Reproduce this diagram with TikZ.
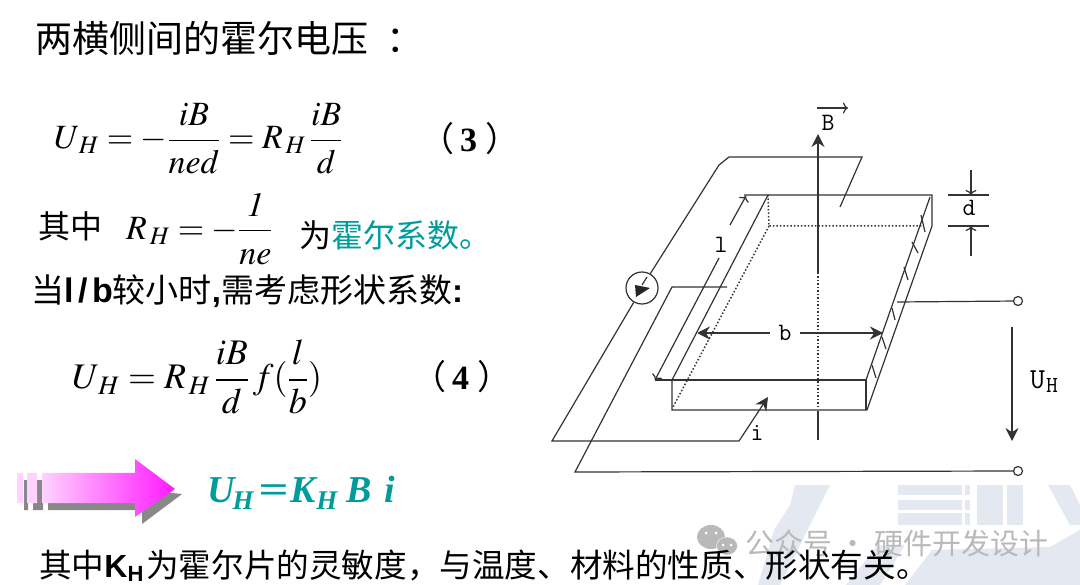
\documentclass[tikz,border=0pt]{standalone}
\usepackage{amsmath}
\usepackage{mathptmx}
\usepackage{graphicx}
\usepackage{fontspec}
\setmainfont{Liberation Serif}
\setsansfont{Liberation Sans}
\newfontfamily\cjk{Noto Sans CJK SC}
\usetikzlibrary{arrows,arrows.meta,positioning,shapes,shapes.geometric}
\definecolor{hallteal}{HTML}{009C9C}
\definecolor{markgray}{HTML}{B9B9B9}
\definecolor{markblue}{HTML}{E4E9F1}
\definecolor{shadegray}{HTML}{888888}
\definecolor{palepink}{HTML}{FFD2FF}
\newcommand{\fs}[1]{\fontsize{#1}{#1}\selectfont}
\newcommand{\hfrac}[2]{\dfrac{\rule[-5pt]{0pt}{5pt}#1}{\rule{0pt}{29pt}#2}}
\newcommand{\subh}{_{\,H}}

\begin{document}
\begin{tikzpicture}[x=1pt,y=-1pt,line join=miter,inner sep=0pt]
	\tikzset{wire/.style={line width=1.2pt,draw=black!80}}
	\tikzset{hidden/.style={line width=1.5pt,draw=black!80,dotted}}
	\tikzset{fillhead/.style={-{Stealth[length=13pt,width=13pt]}}}
	\tikzset{openhead/.style={-{To[length=5pt,width=11pt]}}}
	\tikzset{txt/.style={anchor=west,text=black}}
	\tikzset{lab/.style={font=\ttfamily\fs{25}}}
	\tikzset{term/.style={circle,draw=black!80,line width=1.2pt,minimum size=9pt}}
	\useasboundingbox (0,0) rectangle (1080,585);

	% Watermark
	\fill[markblue] (795,485) -- (830,485) -- (780,585) -- (758,585) -- (774,530) -- (790,505) -- cycle;
	\fill[markblue] (846,585) -- (878,545) -- (905,545) -- (880,585) -- cycle;
	\fill[markblue] (905,585) -- (932,550) -- (1050,547) -- (1080,530) -- (1080,585) -- cycle;
	\foreach \ya/\yb in {485/495,500/510,513/525} {
		\fill[markblue] (898,\ya) rectangle (962,\yb);
		\fill[markblue] (965,\ya) rectangle (970,\yb);
	}
	\fill[markblue] (977,485) rectangle (1003,525);
	\fill[markblue] (1007,485) rectangle (1023,525);
	\fill[markblue] (1048,485) -- (1070,485) -- (1080,505) -- (1080,525) -- (1070,525) -- cycle;
	\fill[markgray] (711,537) ellipse (14pt and 12pt);
	\filldraw[fill=markgray,draw=white] (727,546) ellipse (10.5pt and 9pt);
	\foreach \xe/\ye in {706/533,716/533,723/545,731/545} {
		\fill[white] (\xe,\ye) circle (1.5pt);
	}
	\node[txt,text=markgray,font=\cjk\fs{29}] (mark) at (745,543) {公众号 · 硬件开发设计};

	% Texts
	\node[txt,font=\cjk\fs{37}] (title) at (35,38) {两横侧间的霍尔电压\hspace{18pt}：};
	\node[txt,font=\fs{34}] (eq3) at (54,139) {$U\subh=-\hfrac{iB}{ned}=R\subh\,\hfrac{iB}{d}$};
	\node[txt,font=\fs{34}] (num3) at (420,139) {{\cjk （}\hspace{6pt}\textbf{3}\hspace{8pt}{\cjk ）}};
	\node[txt,font=\cjk\fs{32}] (qizhong) at (38,226) {其中};
	\node[txt,font=\fs{34}] (eqr) at (126,229) {$R\subh=-\hfrac{\mathit{1}}{ne}$};
	\node[txt,font=\cjk\fs{32}] (coef) at (299,235) {为\textcolor{hallteal}{霍尔系数。}};
	\node[txt,font=\cjk\fs{33}] (shape) at (31,291) {当{\sffamily\bfseries\fs{34}l\hspace{4.5pt}/\hspace{4.5pt}b}较小时{\sffamily\bfseries ,}需考虑形状系数{\sffamily\bfseries :}};
	\node[txt,font=\fs{36}] (eq4) at (72,377) {$U\subh=R\subh\,\hfrac{iB}{d}\,f(\hfrac{l}{b})$};
	\node[txt,font=\fs{34}] (num4) at (412,377) {{\cjk （}\hspace{6pt}\textbf{4}\hspace{8pt}{\cjk ）}};
	\node[txt,text=hallteal,font=\bfseries\itshape\fs{38}] (eqk) at (207,493) {U\raisebox{-7pt}{\hspace{-2pt}\fs{27}H}\hspace{5pt}\scalebox{1.4}[1]{=}\hspace{2pt}K\raisebox{-7pt}{\fs{27}H}\hspace{9pt}B\hspace{13pt}i};
	\node[txt,font=\cjk\fs{32.6}] (note) at (39,566) {其中{\sffamily\bfseries\fs{32}K\raisebox{-4pt}{\fs{22}H}}\hspace{3pt}为霍尔片的灵敏度，与温度、材料的性质、形状有关。};

	% Big arrow
	\fill[shadegray] (24,480) rectangle (28,510) (33,480) rectangle (43,510);
	\fill[shadegray] (48,503) -- (142,503) -- (142,490) -- (182,494) -- (142,524) -- (142,510) -- (48,510) -- cycle;
	\fill[palepink] (17,473) rectangle (23,503) (27,473) rectangle (37,503);
	\shade[left color=palepink,right color=magenta!90!white] (42,473) -- (135,473) -- (135,459) -- (175,489) -- (135,517) -- (135,503) -- (42,503) -- cycle;

	% States
	\node[circle,draw=black!80,line width=1.2pt,minimum size=32pt] (meter) at (642,288) {};
	\node[term] (termt) at (1018,301) {};
	\node[term] (termb) at (1018,471) {};
	\node[lab] (lbll) at (721,245) {l};
	\node[lab] (lblb) at (785,333) {b};
	\node[lab] (lbld) at (969,208) {d};
	\node[lab] (lbli) at (757,433) {i};
	\node[lab] (lblB) at (828,123) {B};
	\node[anchor=west,font=\ttfamily\fs{29}] (lblU) at (1030,382) {U\raisebox{-4pt}{\hspace{1pt}\fs{23}H}};

	% Plate
	\draw[wire] (744,195) -- (932,195) -- (932,226) -- (867,410) -- (672,410) -- (672,380);
	\draw[wire] (655,380) -- (866,380) -- (866,410);
	\draw[wire] (768,195) -- (672,380);
	\draw[wire] (930,197) -- (866,380);
	\draw[hidden] (768,195) -- (769,226) -- (922,226);
	\draw[hidden] (769,226) -- (673,407);
	\foreach \xa/\ya/\xb/\yb in {921/215/925/232,912/242/918/253,904/267/908/280,892/308/895/320,882/337/886/349,872/365/876/378} {
		\draw[wire] (\xa,\ya) -- (\xb,\yb);
	}

	% Wires
	\draw[wire] (meter.60) -- (719,165) -- (729,157) -- (862,157) -- (840,207);
	\draw[wire,fillhead] (meter.240) -- (552,441) -- (739,441) -- (768,397);
	\draw[wire] (727,287) -- (672,287) -- (575,472) -- (termb);
	\draw[wire] (897,302) -- (termt);
	\draw[wire] (647,277) -- (642,285);
	\fill[black!85] (635,285) -- (650,288) -- (636,297) -- cycle;

	% Field
	\draw[wire,line width=1.4pt,fillhead] (818,273) -- (818,134);
	\draw[hidden] (818,273) -- (818,408);
	\draw[wire,line width=1.4pt] (818,411) -- (818,440);
	\draw[wire,openhead] (817,108) -- (848,108);

	% Dimensions
	\draw[wire,openhead] (lbll) ++(9,-20) -- (746,196);
	\draw[wire,openhead] (lbll) ++(-2,13) -- (655,380);
	\draw[wire,fillhead] (lblb.west) ++(-8,0) -- (697,333);
	\draw[wire,fillhead] (lblb.east) ++(8,0) -- (883,333);
	\draw[wire] (948,195) -- (989,195);
	\draw[wire] (948,226) -- (989,226);
	\draw[wire,openhead] (971,170) -- (971,195);
	\draw[wire,openhead] (971,256) -- (971,226);
	\draw[wire,fillhead] (1012,327) -- (1012,441);
\end{tikzpicture}
\end{document}
